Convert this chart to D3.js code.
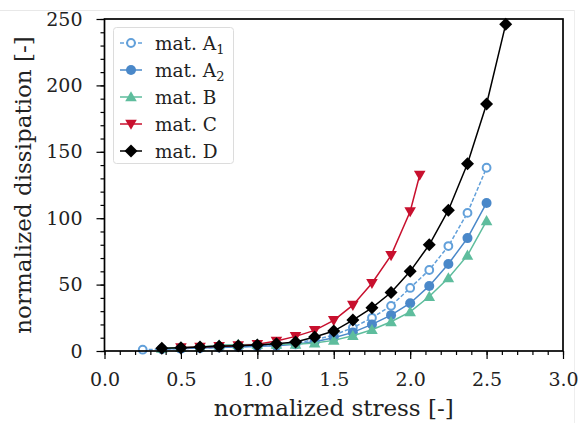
<!DOCTYPE html>
<html><head><meta charset="utf-8">
<script src="https://cdn.jsdelivr.net/npm/d3@7"></script>
<style>body{margin:0;background:#fff}svg{display:block}text{font-family:"DejaVu Serif",serif;fill:#222}</style>
</head><body><svg id="c" width="580" height="423"></svg>
<script>
const xA1 = [0.25,0.375,0.5,0.625,0.75,0.875,1.0,1.125,1.25,1.375,1.5,1.625,1.75,1.875,2.0,2.125,2.25,2.375,2.5];
const yA1 = [1.0,1.4,1.8,2.2,2.7,3.2,3.8,4.5,6.0,8.5,12,17.5,25,34,47.5,61,79,104,138];
const xA2 = [0.375,0.5,0.625,0.75,0.875,1.0,1.125,1.25,1.375,1.5,1.625,1.75,1.875,2.0,2.125,2.25,2.375,2.5];
const yA2 = [1.5,1.8,2.2,2.6,3.0,3.5,4.0,5.0,7.0,10,14,20,27,36,49,65.5,85,111.5];
const xB = [0.375,0.5,0.625,0.75,0.875,1.0,1.125,1.25,1.375,1.5,1.625,1.75,1.875,2.0,2.125,2.25,2.375,2.5];
const yB = [2.0,2.5,3.0,4.5,4.8,5.0,5.0,5.0,6.0,8.0,11.5,16,22,29.5,41,55,72,98];
const xC = [0.5,0.625,0.75,0.875,1.0,1.125,1.25,1.375,1.5,1.625,1.75,1.875,2.0,2.0625];
const yC = [2.5,3.0,3.5,4.0,5.0,7.5,11,15.5,23,34.5,51,72,105,132.5];
const xD = [0.375,0.5,0.625,0.75,0.875,1.0,1.125,1.25,1.375,1.5,1.625,1.75,1.875,2.0,2.125,2.25,2.375,2.5,2.625];
const yD = [2.0,2.5,3.0,3.5,4.0,4.5,5.5,6.8,10.5,15,23.3,32.5,44,60,80,106,141,186,246];
const xTicks = [0.0,0.5,1.0,1.5,2.0,2.5,3.0];
const yTicks = [0,50,100,150,200,250];

const svg = d3.select("#c");
const L=104.5, R=563, T=19, B=351;
const x = d3.scaleLinear().domain([0,3]).range([L,R]);
const y = d3.scaleLinear().domain([0,250]).range([B,T]);

// faint frame artifacts
svg.append("line").attr("x1",0).attr("x2",574).attr("y1",10.5).attr("y2",10.5).attr("stroke","#e8e8e8").attr("stroke-width",1);
svg.append("line").attr("x1",574.5).attr("x2",574.5).attr("y1",10).attr("y2",423).attr("stroke","#eeeeee").attr("stroke-width",1);

const series = [
  {name:"A1", xs:xA1, ys:yA1, color:"#62a0da", dash:"4,2", marker:"circleOpen"},
  {name:"A2", xs:xA2, ys:yA2, color:"#4a88c9", dash:null, marker:"circle"},
  {name:"B",  xs:xB,  ys:yB,  color:"#5ebd9d", dash:null, marker:"triUp"},
  {name:"C",  xs:xC,  ys:yC,  color:"#c8102e", dash:null, marker:"triDown"},
  {name:"D",  xs:xD,  ys:yD,  color:"#000000", dash:null, marker:"diamond"}
];

const g = svg.append("g");
function drawMarker(sel, type, color, cx, cy){
  if(type==="circleOpen"){
    sel.append("circle").attr("cx",cx).attr("cy",cy).attr("r",3.9).attr("fill","#fff").attr("stroke",color).attr("stroke-width",2);
  } else if(type==="circle"){
    sel.append("circle").attr("cx",cx).attr("cy",cy).attr("r",5.0).attr("fill",color).attr("stroke","none");
  } else if(type==="triUp"){
    const a=5.8;
    sel.append("path").attr("d",`M${cx},${cy-a}L${cx+a},${cy+a*0.75}L${cx-a},${cy+a*0.75}Z`).attr("fill",color);
  } else if(type==="triDown"){
    const a=5.8;
    sel.append("path").attr("d",`M${cx},${cy+a}L${cx+a},${cy-a*0.75}L${cx-a},${cy-a*0.75}Z`).attr("fill",color);
  } else if(type==="diamond"){
    const a=6.5;
    sel.append("path").attr("d",`M${cx},${cy-a}L${cx+a},${cy}L${cx},${cy+a}L${cx-a},${cy}Z`).attr("fill",color);
  }
}

const pg = g.append("g");
series.forEach(s=>{
  const pts = s.xs.map((v,i)=>[v,s.ys[i]]);
  const line = d3.line().x(d=>x(d[0])).y(d=>y(d[1]));
  const grp = pg.append("g");
  grp.append("path").attr("d",line(pts)).attr("fill","none").attr("stroke",s.color)
    .attr("stroke-width",1.5).attr("stroke-dasharray",s.dash);
  pts.forEach(d=>drawMarker(grp,s.marker,s.color,x(d[0]),y(d[1])));
});

// axes
const xAxis = d3.axisBottom(x).tickValues(xTicks).tickFormat(d3.format(".1f")).tickSize(8).tickPadding(14);
const xMinor = d3.axisBottom(x).tickValues(d3.range(0,3.001,0.1)).tickFormat("").tickSize(4);
const yAxis = d3.axisLeft(y).tickValues(yTicks).tickFormat(d3.format("d")).tickSize(8).tickPadding(14);
const yMinor = d3.axisLeft(y).tickValues(d3.range(0,250.1,10)).tickFormat("").tickSize(4);

function style(a){
  a.attr("font-family",null).attr("font-size",null);
  a.select(".domain").remove();
  a.selectAll("line").attr("stroke","#000").attr("stroke-width",1.2);
  a.selectAll("text").style("font-family","DejaVu Serif").style("font-size","19px").attr("fill","#222");
}
svg.append("g").attr("transform",`translate(0,${B})`).call(xMinor).call(style);
svg.append("g").attr("transform",`translate(0,${B})`).call(xAxis).call(style);
svg.append("g").attr("transform",`translate(${L},0)`).call(yMinor).call(style);
svg.append("g").attr("transform",`translate(${L},0)`).call(yAxis).call(style);

// spines
svg.append("rect").attr("x",L).attr("y",T).attr("width",R-L).attr("height",B-T)
  .attr("fill","none").attr("stroke","#000").attr("stroke-width",1.7);

// axis titles
svg.append("text").attr("x",(L+R)/2).attr("y",416).attr("text-anchor","middle")
  .style("font-size","23px").text("normalized stress [-]");
svg.append("text").attr("transform",`translate(31,${(T+B)/2}) rotate(-90)`).attr("text-anchor","middle")
  .style("font-size","23px").text("normalized dissipation [-]");

// legend
const lg = svg.append("g");
lg.append("rect").attr("x",113.5).attr("y",27.5).attr("width",120).attr("height",136).attr("rx",3)
  .attr("fill","rgba(255,255,255,0.85)").attr("stroke","#dcdcdc").attr("stroke-width",1);
const labels = [["mat. A","1"],["mat. A","2"],["mat. B",""],["mat. C",""],["mat. D",""]];
series.forEach((s,i)=>{
  const yy = 43 + i*27;
  lg.append("line").attr("x1",120).attr("x2",142).attr("y1",yy).attr("y2",yy)
    .attr("stroke",s.color).attr("stroke-width",1.5).attr("stroke-dasharray",s.dash);
  drawMarker(lg,s.marker,s.color,131,yy);
  const t = lg.append("text").attr("x",155).attr("y",yy+6.5).style("font-size","18.5px");
  t.append("tspan").text(labels[i][0]);
  if(labels[i][1]) t.append("tspan").attr("dy",4).style("font-size","13px").text(labels[i][1]);
});
</script></body></html>
